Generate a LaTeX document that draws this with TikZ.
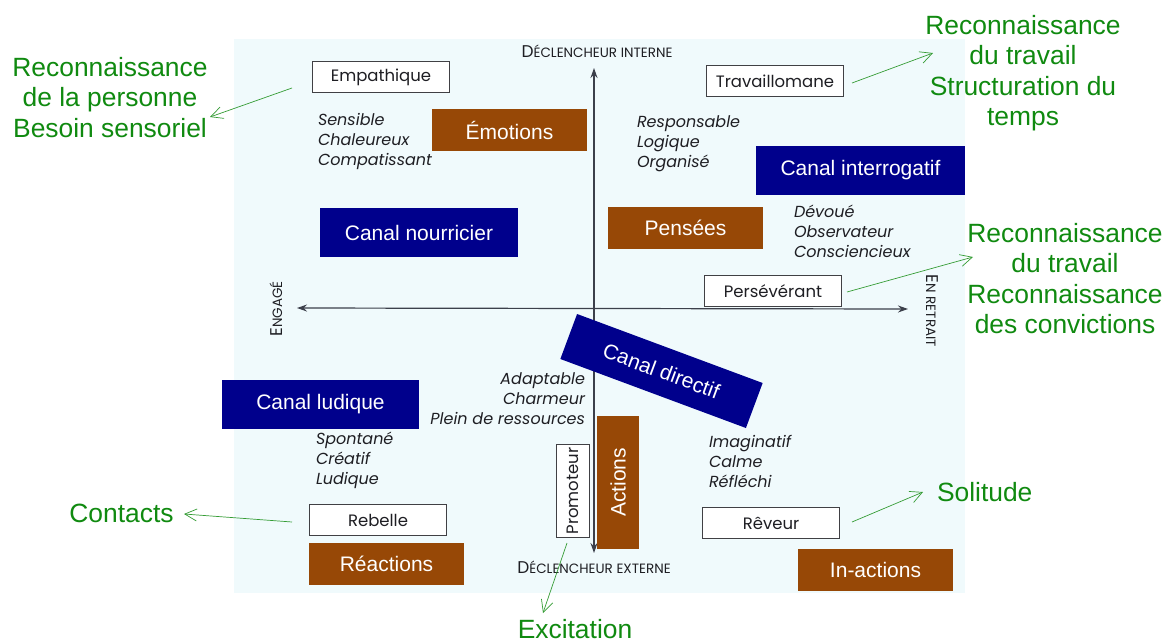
\documentclass[tikz,border=0pt]{standalone}
\usepackage{fontspec}
\setmainfont{Liberation Sans}
\newfontfamily\fut{Poppins}
\usetikzlibrary{arrows.meta}
\definecolor{panel}{RGB}{240,250,252}
\definecolor{brownbox}{RGB}{151,72,6}
\definecolor{navybox}{RGB}{0,0,140}
\definecolor{greentxt}{RGB}{16,138,16}
\definecolor{axiscol}{RGB}{60,64,75}
\definecolor{ink}{RGB}{30,30,35}
\newcommand\stack[2]{\begin{tabular}[t]{@{}#1@{}}#2\end{tabular}}
\newcommand\axbig[1]{{\fontsize{17}{20}\selectfont #1}}
\newcommand\axsmall[1]{{\fontsize{13.5}{16}\selectfont #1}}
\begin{document}
\begin{tikzpicture}[x=1pt,y=-1pt,
  every node/.style={inner sep=0pt, outer sep=0pt},
  colbox/.style={minimum width=155pt, minimum height=42pt, fill=brownbox, text=white, font=\fontsize{21}{25}\selectfont},
  canal/.style={minimum width=198pt, minimum height=49pt, fill=navybox, text=white, font=\fontsize{21}{25}\selectfont},
  typebox/.style={draw=ink!85, line width=0.8pt, fill=white, minimum width=137pt, minimum height=31pt, font=\fut\fontsize{16.5}{19}\selectfont, text=ink},
  trait/.style={font=\fut\itshape\fontsize{16}{20}\selectfont, text=ink, anchor=base west},
  axlabel/.style={font=\fut, text=ink},
  gtext/.style={text=greentxt, font=\fontsize{26.4}{30.5}\selectfont},
  garrow/.style={draw=greentxt!85, line width=0.7pt, -{Straight Barb[length=12pt,width=12pt]}},
  axisline/.style={draw=axiscol, line width=1.2pt, {Stealth[length=10pt,width=7pt]}-{Stealth[length=10pt,width=7pt]}},
]
\fill[white] (0,0) rectangle (1168,643);
\useasboundingbox (0,0) rectangle (1168,643);
\fill[panel] (234,39) rectangle (965,593);

% axes
\coordinate (ytop) at (594,68);
\coordinate (ybot) at (594,553);
\coordinate (xl) at (297,308);
\coordinate (xr) at (908,309);
\draw[axisline] (ybot) -- (ytop);
\draw[axisline] (xl) -- (xr);

\node[axlabel, anchor=base] (din) at (597,57) {\axbig{D}\axsmall{ÉCLENCHEUR INTERNE}};
\node[axlabel, anchor=base] (dex) at (594,573) {\axbig{D}\axsmall{ÉCLENCHEUR EXTERNE}};
\node[axlabel, rotate=90] (eng) at (276,309) {\axbig{E}\axsmall{NGAGÉ}};
\node[axlabel, rotate=-90] (ret) at (932,311) {\axbig{E}\axsmall{N RETRAIT}};

% type boxes
\node[typebox] (emp) at (381,77) {Empathique};
\node[typebox] (tra) at (775,81) {Travaillomane};
\node[typebox] (per) at (773,291) {Persévérant};
\node[typebox] (reb) at (378,520) {Rebelle};
\node[typebox] (rev) at (771,523) {Rêveur};
\node[typebox, minimum width=93pt, minimum height=33pt, rotate=90] (pro) at (573,491) {Promoteur};

% traits
\node[trait] (t1) at (318,125) {\stack{l}{Sensible\\Chaleureux\\Compatissant}};
\node[trait] (t2) at (637,127) {\stack{l}{Responsable\\Logique\\Organisé}};
\node[trait] (t3) at (794,217) {\stack{l}{Dévoué\\Observateur\\Consciencieux}};
\node[trait, anchor=base east] (t4) at (585,384) {\stack{r}{Adaptable\\Charmeur\\Plein de ressources}};
\node[trait] (t5) at (316,444) {\stack{l}{Spontané\\Créatif\\Ludique}};
\node[trait] (t6) at (709,447) {\stack{l}{Imaginatif\\Calme\\Réfléchi}};

% brown boxes
\node[colbox] (emo) at (509.5,130) {Émotions};
\node[colbox] (pen) at (685.5,228) {Pensées};
\node[colbox] (rea) at (386.5,563.5) {Réactions};
\node[colbox] (ina) at (875.5,570) {In-actions};
\node[colbox, minimum width=133pt, minimum height=42pt, rotate=90] (act) at (618,482.5) {Actions};

% navy boxes
\node[canal] (cno) at (419,232.5) {Canal nourricier};
\node[canal, minimum width=209pt] (cin) at (860.5,170.5) {Canal interrogatif};
\node[canal, minimum width=197pt] (clu) at (320.5,404.5) {Canal ludique};
\node[canal, minimum height=48pt, rotate=-20.4] (cdi) at (661.5,371) {Canal directif};

% green texts
\node[gtext, anchor=base] (g1) at (110,76) {\stack{c}{Reconnaissance\\de la personne\\Besoin sensoriel}};
\node[gtext, anchor=base] (g2) at (1023,34) {\stack{c}{Reconnaissance\\du travail\\Structuration du\\temps}};
\node[gtext, anchor=base] (g3) at (1065,242) {\stack{c}{Reconnaissance\\du travail\\Reconnaissance\\des convictions}};
\node[gtext, anchor=base] (g4) at (121.5,522) {Contacts};
\node[gtext, anchor=base west] (g5) at (937,501) {Solitude};
\node[gtext, anchor=base] (g6) at (575,638.5) {Excitation};

% green arrows
\coordinate (a1s) at (292,88);  \coordinate (a1e) at (210,117);
\coordinate (a2s) at (852,83);  \coordinate (a2e) at (933,53);
\coordinate (a3s) at (847,292); \coordinate (a3e) at (973,257);
\coordinate (a4s) at (852,522); \coordinate (a4e) at (923,492);
\coordinate (a5s) at (292,522); \coordinate (a5e) at (184,514);
\coordinate (a6s) at (567,543); \coordinate (a6e) at (543,613);
\draw[garrow] (a1s) -- (a1e);
\draw[garrow] (a2s) -- (a2e);
\draw[garrow] (a3s) -- (a3e);
\draw[garrow] (a4s) -- (a4e);
\draw[garrow] (a5s) -- (a5e);
\draw[garrow] (a6s) -- (a6e);
\end{tikzpicture}
\end{document}
